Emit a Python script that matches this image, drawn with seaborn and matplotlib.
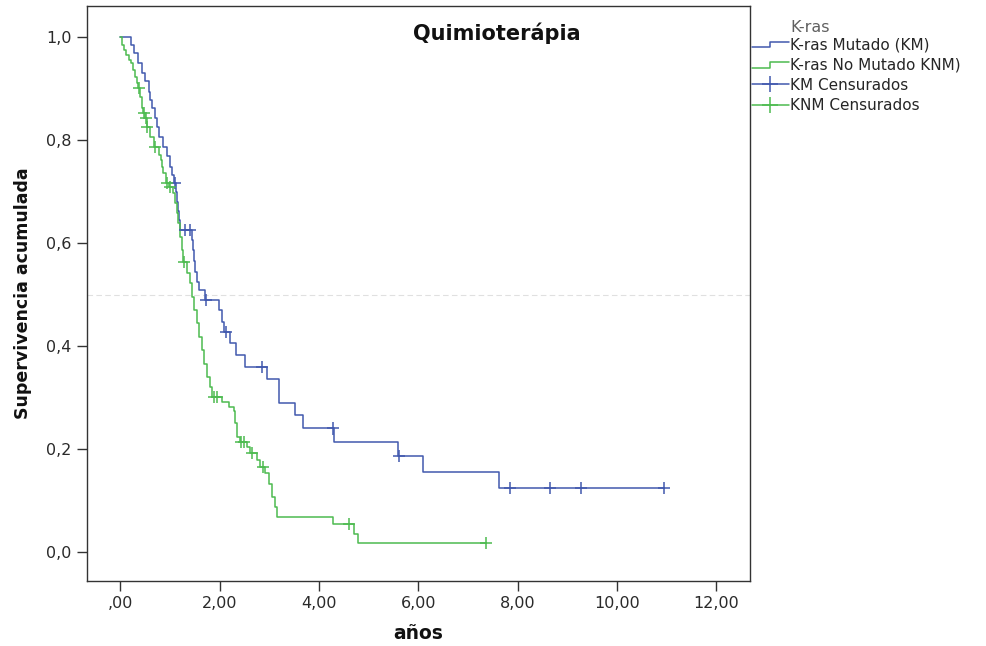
import numpy as np
import pandas as pd
import matplotlib
matplotlib.use("Agg")
import matplotlib.pyplot as plt
import seaborn as sns
from matplotlib.legend_handler import HandlerBase
from matplotlib.lines import Line2D

sns.set_theme(style="white")
plt.rcParams["font.family"] = ["DejaVu Sans"]

# Kaplan-Meier estimates: step times (years) and cumulative survival after each step
km_time = [0.00, 0.22, 0.28, 0.36, 0.44, 0.50, 0.57, 0.60, 0.64, 0.70, 0.74, 0.77,
           0.87, 0.94, 1.01, 1.05, 1.08, 1.13, 1.15, 1.17, 1.19, 1.21, 1.44, 1.47,
           1.49, 1.51, 1.54, 1.58, 1.71, 1.98, 2.05, 2.09, 2.21, 2.33, 2.52, 2.95,
           3.19, 3.52, 3.68, 4.30, 5.60, 6.09, 7.62, 10.94]
km_surv = [1.000, 0.984, 0.969, 0.950, 0.930, 0.914, 0.894, 0.878, 0.862, 0.843,
           0.826, 0.806, 0.787, 0.768, 0.748, 0.732, 0.716, 0.699, 0.680, 0.662,
           0.645, 0.625, 0.606, 0.586, 0.565, 0.544, 0.525, 0.509, 0.489, 0.470,
           0.447, 0.428, 0.405, 0.383, 0.360, 0.337, 0.289, 0.266, 0.240, 0.213,
           0.186, 0.156, 0.124, 0.124]
km_cens = [1.10, 1.31, 1.40, 1.72, 2.13, 2.85, 4.28, 5.62, 7.85, 8.66, 9.28, 10.94]

knm_time = [0.00, 0.03, 0.07, 0.12, 0.17, 0.22, 0.26, 0.30, 0.34, 0.35, 0.40, 0.44,
            0.45, 0.49, 0.53, 0.60, 0.67, 0.77, 0.81, 0.84, 0.87, 0.92, 0.98, 1.07,
            1.11, 1.14, 1.17, 1.21, 1.24, 1.26, 1.34, 1.41, 1.44, 1.48, 1.54, 1.58,
            1.65, 1.68, 1.75, 1.81, 1.85, 2.05, 2.18, 2.28, 2.32, 2.35, 2.42, 2.55,
            2.62, 2.75, 2.82, 2.92, 2.99, 3.05, 3.12, 3.16, 4.28, 4.71, 4.78, 7.37]
knm_surv = [1.000, 0.984, 0.975, 0.965, 0.955, 0.949, 0.936, 0.923, 0.910, 0.901,
            0.884, 0.862, 0.852, 0.842, 0.826, 0.806, 0.787, 0.771, 0.761, 0.748,
            0.735, 0.716, 0.709, 0.697, 0.677, 0.658, 0.638, 0.612, 0.586, 0.564,
            0.541, 0.522, 0.496, 0.470, 0.444, 0.418, 0.392, 0.366, 0.340, 0.321,
            0.302, 0.292, 0.282, 0.274, 0.250, 0.224, 0.214, 0.204, 0.192, 0.179,
            0.165, 0.153, 0.133, 0.107, 0.088, 0.068, 0.054, 0.036, 0.017, 0.017]
knm_cens = [0.37, 0.47, 0.51, 0.545, 0.70, 0.94, 1.01, 1.29, 1.89, 1.95, 2.44, 2.50,
            2.66, 2.88, 4.60, 7.37]

groups = ["K-ras Mutado (KM)", "K-ras No Mutado KNM)"]
censor_labels = ["KM Censurados", "KNM Censurados"]
x_ticks = [0, 2, 4, 6, 8, 10, 12]
x_tick_labels = [",00", "2,00", "4,00", "6,00", "8,00", "10,00", "12,00"]
y_ticks = [0.0, 0.2, 0.4, 0.6, 0.8, 1.0]
y_tick_labels = ["0,0", "0,2", "0,4", "0,6", "0,8", "1,0"]

colors = {groups[0]: "#4159AE", groups[1]: "#4DBB50"}


def level_at(times, surv, t):
    idx = np.searchsorted(times, t, side="right") - 1
    return np.asarray(surv)[idx]


curves = pd.concat([
    pd.DataFrame({"t": km_time, "s": km_surv, "grupo": groups[0]}),
    pd.DataFrame({"t": knm_time, "s": knm_surv, "grupo": groups[1]}),
], ignore_index=True)
cens = pd.concat([
    pd.DataFrame({"t": km_cens, "s": level_at(km_time, km_surv, km_cens), "grupo": groups[0]}),
    pd.DataFrame({"t": knm_cens, "s": level_at(knm_time, knm_surv, knm_cens), "grupo": groups[1]}),
], ignore_index=True)

fig = plt.figure(figsize=(9.86, 6.46), dpi=100)
ax = fig.add_axes([87 / 986, 1 - 581 / 646, (750 - 87) / 986, (581 - 6) / 646])

ax.axhline(0.5, color="#e0e0e0", lw=0.8, ls=(0, (5, 3)), zorder=0)

sns.lineplot(data=curves, x="t", y="s", hue="grupo", palette=colors,
             drawstyle="steps-post", estimator=None, sort=False, lw=1.1,
             legend=False, ax=ax)
sns.scatterplot(data=cens, x="t", y="s", hue="grupo", palette=colors,
                marker="+", s=75, linewidth=1.1, legend=False, ax=ax, zorder=3)

ax.set_xlim(-0.67, 12.68)
ax.set_ylim(-0.056, 1.060)
ax.set_xticks(x_ticks)
ax.set_xticklabels(x_tick_labels)
ax.set_yticks(y_ticks)
ax.set_yticklabels(y_tick_labels)
ax.tick_params(axis="both", which="major", direction="out", length=7, width=1,
               color="#333333", labelsize=11.5, labelcolor="#2a2a2a",
               bottom=True, left=True, pad=4)
for sp in ax.spines.values():
    sp.set_visible(True)
    sp.set_color("#333333")
    sp.set_linewidth(1.0)

ax.set_xlabel("años", fontsize=13.5, fontweight="bold", color="#111111", labelpad=9)
ax.set_ylabel("Supervivencia acumulada", fontsize=12.5, fontweight="bold",
              color="#111111", labelpad=10)
ax.text(0.618, 0.953, "Quimioterápia", transform=ax.transAxes, ha="center",
        va="center", fontsize=15, fontweight="bold", color="#111111")


class StepHandler(HandlerBase):
    def create_artists(self, legend, orig_handle, xdescent, ydescent, width,
                       height, fontsize, trans):
        x0 = -xdescent
        x1 = x0 + width
        xm = x0 + width * 0.5
        ylo = -ydescent + height * 0.15
        yhi = -ydescent + height * 0.65
        line = Line2D([x0, xm, xm, x1], [ylo, ylo, yhi, yhi],
                      color=orig_handle.get_color(), lw=1.1, transform=trans)
        return [line]


class StepKey(Line2D):
    pass


handles = [
    StepKey([], [], color=colors[groups[0]]),
    StepKey([], [], color=colors[groups[1]]),
    Line2D([], [], color=colors[groups[0]], lw=1.1, marker="+", markersize=11,
           markeredgewidth=1.1),
    Line2D([], [], color=colors[groups[1]], lw=1.1, marker="+", markersize=11,
           markeredgewidth=1.1),
]
fig.legend(handles, groups + censor_labels, loc="upper left",
           bbox_to_anchor=(752 / 986, 1 - 37 / 646), frameon=False,
           handlelength=2.4, handletextpad=0.1, labelspacing=0.35, fontsize=11,
           borderaxespad=0, borderpad=0, handler_map={StepKey: StepHandler()},
           markerscale=1.0, numpoints=1)
fig.text(790 / 986, 1 - 27 / 646, "K-ras", ha="left", va="center", fontsize=11.5,
         color="#606060")

fig.savefig("out.png", dpi=100)
